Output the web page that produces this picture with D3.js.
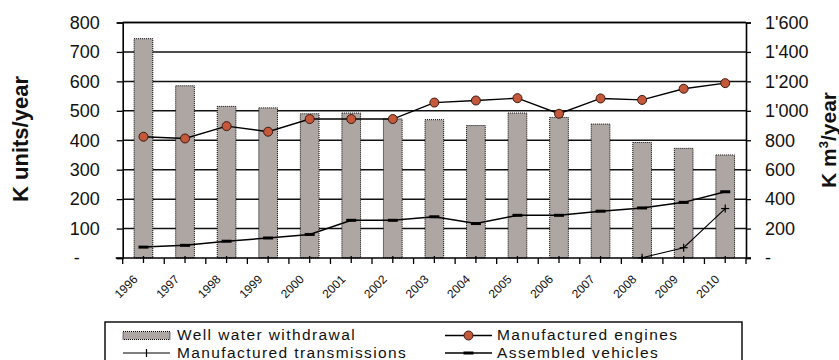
<!DOCTYPE html>
<html>
<head>
<meta charset="utf-8">
<script src="https://cdn.jsdelivr.net/npm/d3@7"></script>
<style>
  html, body { margin: 0; padding: 0; background: #fff; overflow: hidden; }
  svg { display: block; font-family: "Liberation Sans", Arial, sans-serif; }
</style>
</head>
<body>
<svg id="chart" width="839" height="360"></svg>
<script>
// Years on the category axis
const years = ["1996","1997","1998","1999","2000","2001","2002","2003","2004","2005","2006","2007","2008","2009","2010"];
// Well water withdrawal, K m3/year (right axis)
const waterWithdrawal = [1490, 1170, 1030, 1020, 980, 985, 945, 940, 900, 985, 955, 910, 785, 745, 700];
// Manufactured engines, K units/year (left axis)
const engines = [412, 406, 448, 429, 472, 472, 472, 528, 535, 543, 490, 542, 537, 575, 594];
// Manufactured transmissions, K units/year (left axis), production starts in 2008
const transmissions = [null, null, null, null, null, null, null, null, null, null, null, null, 1, 35, 168];
// Assembled vehicles, K units/year (left axis)
const vehicles = [37, 43, 57, 68, 80, 128, 128, 140, 117, 145, 145, 159, 170, 189, 225];
// Axis ticks
const leftTicks = [0, 100, 200, 300, 400, 500, 600, 700, 800];
const rightTicks = [0, 200, 400, 600, 800, 1000, 1200, 1400, 1600];

const svg = d3.select("#chart");
const m = { left: 122.7, right: 746, top: 22.5, bottom: 258 };

const x = d3.scaleBand().domain(years).range([m.left, m.right]).paddingInner(0.55).paddingOuter(0.275);
const yL = d3.scaleLinear().domain([0, 800]).range([m.bottom, m.top]);
const yR = d3.scaleLinear().domain([0, 1600]).range([m.bottom, m.top]);
const cx = d => x(d) + x.bandwidth() / 2;

const BAR_FILL = "#aea6a3";
const ENGINE_FILL = "#c4583a";

// horizontal gridlines
svg.append("g").selectAll("line").data(leftTicks.filter(d => d > 0)).join("line")
  .attr("x1", m.left).attr("x2", m.right)
  .attr("y1", d => yL(d)).attr("y2", d => yL(d))
  .attr("stroke", "#111").attr("stroke-width", 1.5);

// water withdrawal bars
svg.append("g").selectAll("rect").data(years).join("rect")
  .attr("x", d => x(d)).attr("width", x.bandwidth())
  .attr("y", (d, i) => yR(waterWithdrawal[i]))
  .attr("height", (d, i) => yR(0) - yR(waterWithdrawal[i]))
  .attr("fill", BAR_FILL)
  .attr("stroke", "#000").attr("stroke-width", 1).attr("stroke-dasharray", "1,1");

// axes
const leftAxis = d3.axisLeft(yL).tickValues(leftTicks).tickSize(6).tickPadding(17)
  .tickFormat(d => d === 0 ? "-" : d3.format("d")(d));
const gL = svg.append("g").attr("transform", `translate(${m.left},0)`).call(leftAxis);
gL.selectAll(".tick text").filter(d => d === 0).attr("x", -46).attr("text-anchor", "middle");

const rightAxis = d3.axisRight(yR).tickValues(rightTicks).tickSize(5).tickPadding(14)
  .tickFormat(d => d === 0 ? "-" : d3.format(",")(d).replace(/,/g, "'"));
const gR = svg.append("g").attr("transform", `translate(${m.right},0)`).call(rightAxis);

const bottomAxis = d3.axisBottom(x).tickSize(5).tickSizeOuter(0).tickFormat("");
const gB = svg.append("g").attr("transform", `translate(0,${m.bottom})`).call(bottomAxis);
gB.select(".domain").attr("d", `M${m.left - 7},0H${m.right + 5}`);
// boundary ticks between categories
gB.append("g").selectAll("line").data(years.concat(["end"])).join("line")
  .attr("x1", (d, i) => i < years.length ? cx(d) - x.step() / 2 : cx(years[years.length - 1]) + x.step() / 2)
  .attr("x2", (d, i) => i < years.length ? cx(d) - x.step() / 2 : cx(years[years.length - 1]) + x.step() / 2)
  .attr("y1", 0).attr("y2", 6).attr("stroke", "#000").attr("stroke-width", 1.3);
gB.selectAll(".tick line").attr("y1", -2);

[gL, gR, gB].forEach(g => {
  g.select(".domain").attr("stroke", "#000").attr("stroke-width", 1.6);
  g.selectAll(".tick line").attr("stroke", "#000").attr("stroke-width", 1.3);
  g.selectAll(".tick text").attr("font-size", 18).attr("fill", "#111")
    .attr("font-family", "'Liberation Sans', Arial, sans-serif");
});
// top border
svg.append("line").attr("x1", m.left).attr("x2", m.right).attr("y1", m.top).attr("y2", m.top)
  .attr("stroke", "#000").attr("stroke-width", 1.6);

// rotated year labels
svg.append("g").selectAll("text").data(years).join("text")
  .attr("transform", d => `translate(${cx(d) - 5},${m.bottom + 22}) rotate(-45)`)
  .attr("text-anchor", "end").attr("font-size", 12).attr("fill", "#111")
  .text(d => d);

// lines
function drawLine(values, width) {
  const line = d3.line().defined(d => d[1] != null)
    .x(d => cx(d[0])).y(d => yL(d[1]));
  svg.append("path").datum(years.map((y, i) => [y, values[i]]))
    .attr("d", line).attr("fill", "none").attr("stroke", "#000").attr("stroke-width", width);
}
drawLine(vehicles, 1.5);
drawLine(transmissions, 1.1);
drawLine(engines, 1.4);

// vehicle markers: short thick dashes
svg.append("g").selectAll("rect").data(years).join("rect")
  .attr("x", d => cx(d) - 5).attr("width", 10)
  .attr("y", (d, i) => yL(vehicles[i]) - 1.5).attr("height", 3).attr("fill", "#000");

// transmission markers: plus signs
const tg = svg.append("g").attr("stroke", "#000").attr("stroke-width", 1.2);
years.forEach((d, i) => {
  if (transmissions[i] == null) return;
  const px = cx(d), py = yL(transmissions[i]);
  tg.append("line").attr("x1", px).attr("x2", px).attr("y1", py - 4).attr("y2", py + 4);
  tg.append("line").attr("x1", px - 4).attr("x2", px + 4).attr("y1", py).attr("y2", py);
});

// engine markers
svg.append("g").selectAll("circle").data(years).join("circle")
  .attr("cx", d => cx(d)).attr("cy", (d, i) => yL(engines[i])).attr("r", 4.5)
  .attr("fill", ENGINE_FILL).attr("stroke", "#3a1a10").attr("stroke-width", 1);

// axis titles
svg.append("text").attr("transform", "translate(28,139) rotate(-90)")
  .attr("text-anchor", "middle").attr("font-size", 22).attr("font-weight", "bold").attr("fill", "#111")
  .text("K units/year");
const rt = svg.append("text").attr("transform", "translate(836,140) rotate(-90)")
  .attr("text-anchor", "middle").attr("font-size", 21).attr("font-weight", "bold").attr("fill", "#111");
rt.append("tspan").text("K m");
rt.append("tspan").attr("dy", -8).attr("font-size", 13).text("3");
rt.append("tspan").attr("dy", 8).text("/year");

// legend
const lg = svg.append("g");
lg.append("rect").attr("x", 105).attr("y", 322).attr("width", 637).attr("height", 60)
  .attr("fill", "#fff").attr("stroke", "#000").attr("stroke-width", 1.4);
const legendText = (tx, ty, s) => lg.append("text").attr("x", tx).attr("y", ty)
  .attr("font-size", 15.5).attr("letter-spacing", 1.4).attr("fill", "#111").text(s);
// row 1, col 1: bar swatch
lg.append("rect").attr("x", 123).attr("y", 331.5).attr("width", 47).attr("height", 8)
  .attr("fill", BAR_FILL).attr("stroke", "#000").attr("stroke-width", 1).attr("stroke-dasharray", "1,1");
legendText(177, 340, "Well water withdrawal");
// row 1, col 2: engines
lg.append("line").attr("x1", 445).attr("x2", 492).attr("y1", 335.5).attr("y2", 335.5).attr("stroke", "#000").attr("stroke-width", 1.4);
lg.append("circle").attr("cx", 468.5).attr("cy", 335.5).attr("r", 4.5).attr("fill", ENGINE_FILL).attr("stroke", "#3a1a10");
legendText(497, 340, "Manufactured engines");
// row 2, col 1: transmissions
lg.append("line").attr("x1", 123).attr("x2", 170).attr("y1", 353).attr("y2", 353).attr("stroke", "#000").attr("stroke-width", 1.1);
lg.append("line").attr("x1", 146.5).attr("x2", 146.5).attr("y1", 349).attr("y2", 357).attr("stroke", "#000").attr("stroke-width", 1.2);
legendText(177, 358, "Manufactured transmissions");
// row 2, col 2: vehicles
lg.append("line").attr("x1", 445).attr("x2", 492).attr("y1", 353).attr("y2", 353).attr("stroke", "#000").attr("stroke-width", 1.5);
lg.append("rect").attr("x", 463.5).attr("y", 351.5).attr("width", 10).attr("height", 3).attr("fill", "#000");
legendText(497, 358, "Assembled vehicles");
</script>
</body>
</html>
